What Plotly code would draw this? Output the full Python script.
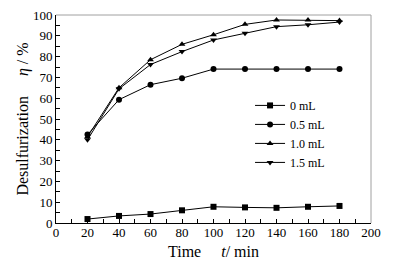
import plotly.graph_objects as go

time_min = [20, 40, 60, 80, 100, 120, 140, 160, 180]
series_names = ["0 mL", "0.5 mL", "1.0 mL", "1.5 mL"]
eta_0 = [1.9, 3.4, 4.3, 6.1, 7.8, 7.5, 7.3, 7.8, 8.2]
eta_05 = [42.5, 59.3, 66.5, 69.6, 74.0, 74.0, 74.0, 74.0, 74.0]
eta_10 = [41.5, 65.0, 78.5, 85.9, 90.5, 95.5, 97.6, 97.6, 97.3]
eta_15 = [40.0, 64.5, 76.2, 82.4, 88.0, 91.2, 94.4, 95.3, 96.6]
symbols = ["square", "circle", "triangle-up", "triangle-down"]
x_ticks = list(range(0, 201, 20))
y_ticks = list(range(0, 101, 10))

fig = go.Figure()
for name, vals, sym in zip(series_names, [eta_0, eta_05, eta_10, eta_15], symbols):
    fig.add_trace(go.Scatter(
        x=time_min, y=vals, name=name, mode="lines+markers",
        line=dict(color="black", width=1),
        marker=dict(symbol=sym, size=6, color="black"),
    ))

font = dict(family="Liberation Serif, Times New Roman, serif", size=13, color="black")
nb = "\u00a0"
fig.update_layout(
    width=395, height=264,
    margin=dict(l=55.5, r=24, t=15, b=41, autoexpand=False),
    paper_bgcolor="white", plot_bgcolor="white",
    font=font,
    showlegend=True,
    legend=dict(x=0.616, y=0.635, xanchor="left", yanchor="top",
                bgcolor="rgba(0,0,0,0)", font=dict(size=12),
                tracegroupgap=0, itemwidth=30),
    xaxis=dict(range=[0, 200], tickvals=x_ticks, ticktext=[str(v) for v in x_ticks],
               automargin=False,
               showgrid=False, zeroline=False, showline=True, linecolor="black", linewidth=1,
               ticks="inside", ticklen=4, tickcolor="black", ticklabelstandoff=-3,
               minor=dict(dtick=10, ticks="inside", ticklen=4, tickcolor="black"),
               title=dict(text="Time" + nb * 5 + "<i>t</i>/ min", standoff=7),
               tickfont=font),
    yaxis=dict(range=[0, 100], tickvals=y_ticks, ticktext=[str(v) for v in y_ticks],
               automargin=False,
               showgrid=False, zeroline=False, showline=True, linecolor="black", linewidth=1,
               ticks="inside", ticklen=4, tickcolor="black",
               minor=dict(dtick=5, ticks="inside", ticklen=4, tickcolor="black"),
               title=dict(text="Desulfurization" + nb * 5 + "<i>η</i> / %", standoff=0),
               tickfont=font),
    shapes=[
        dict(type="line", xref="paper", yref="paper", x0=0, x1=1, y0=1, y1=1,
             line=dict(color="#a0a0a0", width=1)),
        dict(type="line", xref="paper", yref="paper", x0=1, x1=1, y0=0, y1=1,
             line=dict(color="#a0a0a0", width=1)),
    ],
)

fig.write_html("out.html", config={"displayModeBar": False},
               post_script="document.body.style.margin='0';")
